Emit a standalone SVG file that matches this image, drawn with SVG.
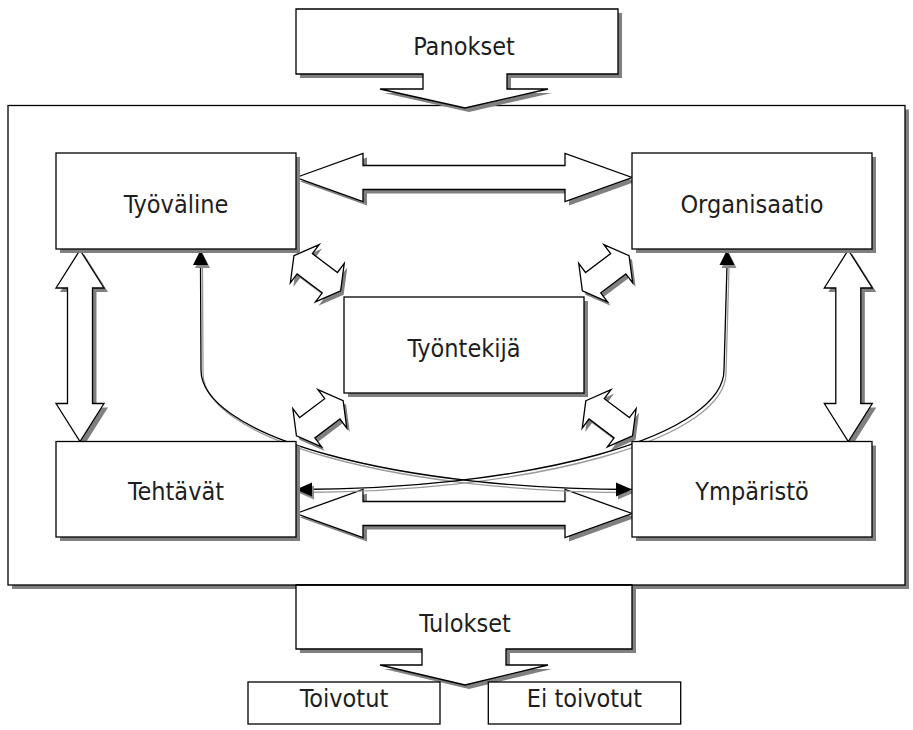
<svg xmlns="http://www.w3.org/2000/svg" xmlns:xlink="http://www.w3.org/1999/xlink" width="913" height="730" viewBox="0 0 913 730">
<style>
.box{fill:#fff;stroke:#000;stroke-width:1.3}
.sh{fill:#808080;stroke:none}
.arr{fill:#fff;stroke:#000;stroke-width:1.3;stroke-linejoin:miter}
.ln{fill:none;stroke:#000;stroke-width:1.3}
.lnsh{fill:none;stroke:#9a9a9a;stroke-width:1.3}
.head{fill:#000;stroke:none}
.headsh{fill:#8a8a8a;stroke:none}
text{font-family:"DejaVu Sans Condensed","DejaVu Sans",Verdana,sans-serif;font-stretch:condensed;font-size:25px;fill:#1e1e1e;text-anchor:middle}
</style>
<defs>
<path id="dbl" d="M-29.2,0 L-15.7,-24 L-15.7,-12.7 L15.7,-12.7 L15.7,-24 L29.2,0 L15.7,24 L15.7,12.7 L-15.7,12.7 L-15.7,24 Z"/>
</defs>

<g id="frame">
<rect class="sh" x="12" y="109.5" width="897" height="479.5"/>
<rect class="box" x="8" y="105.5" width="897" height="479.5"/>
</g>

<g id="connectors">
<!-- top horizontal double arrow -->
<polygon class="sh" transform="translate(4,4)" points="296,177.5 363,153.5 363,165.5 565,165.5 565,153.5 632,177.5 565,201.5 565,189.5 363,189.5 363,201.5"/>
<polygon class="arr" points="296,177.5 363,153.5 363,165.5 565,165.5 565,153.5 632,177.5 565,201.5 565,189.5 363,189.5 363,201.5"/>
<!-- bottom horizontal double arrow -->
<polygon class="sh" transform="translate(4,4)" points="296,513.5 363,489.5 363,501.5 565,501.5 565,489.5 632,513.5 565,537.5 565,525.5 363,525.5 363,537.5"/>
<polygon class="arr" points="296,513.5 363,489.5 363,501.5 565,501.5 565,489.5 632,513.5 565,537.5 565,525.5 363,525.5 363,537.5"/>
<!-- left vertical double arrow -->
<polygon class="sh" transform="translate(4,4)" points="80,250 104,288 92.5,288 92.5,403.5 104,403.5 80,441.5 56,403.5 67.5,403.5 67.5,288 56,288"/>
<polygon class="arr" points="80,250 104,288 92.5,288 92.5,403.5 104,403.5 80,441.5 56,403.5 67.5,403.5 67.5,288 56,288"/>
<!-- right vertical double arrow -->
<polygon class="sh" transform="translate(4,4)" points="848.3,250 872.3,288 860.8,288 860.8,403.5 872.3,403.5 848.3,441.5 824.3,403.5 835.8,403.5 835.8,288 824.3,288"/>
<polygon class="arr" points="848.3,250 872.3,288 860.8,288 860.8,403.5 872.3,403.5 848.3,441.5 824.3,403.5 835.8,403.5 835.8,288 824.3,288"/>
<!-- small diagonal double arrows -->
<use xlink:href="#dbl" class="sh" transform="translate(320.3,277.2) rotate(36.9)"/>
<use xlink:href="#dbl" class="arr" transform="translate(317.3,273.2) rotate(36.9)"/>
<use xlink:href="#dbl" class="sh" transform="translate(608.7,277.2) rotate(-36.9)"/>
<use xlink:href="#dbl" class="arr" transform="translate(605.7,273.2) rotate(-36.9)"/>
<use xlink:href="#dbl" class="sh" transform="translate(322.8,422.3) rotate(-36.9)"/>
<use xlink:href="#dbl" class="arr" transform="translate(319.8,418.3) rotate(-36.9)"/>
<use xlink:href="#dbl" class="sh" transform="translate(612.2,422.3) rotate(36.9)"/>
<use xlink:href="#dbl" class="arr" transform="translate(609.2,418.3) rotate(36.9)"/>
<!-- curved connectors: shadows -->
<path class="lnsh" transform="translate(2,3)" d="M200.5,265 L201,370 A431,119.5 0 0 0 632,489.5"/>
<path class="lnsh" transform="translate(2,3)" d="M727,265 L724,370 A428,119.5 0 0 1 296,489.5"/>
<!-- curved connectors -->
<path class="ln" d="M200.5,265 L201,370 A431,119.5 0 0 0 632,489.5"/>
<path class="ln" d="M727,265 L724,370 A428,119.5 0 0 1 296,489.5"/>
<!-- arrowheads -->
<polygon class="headsh" transform="translate(2,3)" points="200.5,250 193,265 208,265"/>
<polygon class="head" points="200.5,250 193,265 208,265"/>
<polygon class="headsh" transform="translate(2,3)" points="727,250 719.5,265 734.5,265"/>
<polygon class="head" points="727,250 719.5,265 734.5,265"/>
<polygon class="headsh" transform="translate(2,3)" points="296,489.5 312,482.5 312,496.5"/>
<polygon class="head" points="296,489.5 312,482.5 312,496.5"/>
<polygon class="headsh" transform="translate(2,3)" points="632,489.5 616,482.5 616,496.5"/>
<polygon class="head" points="632,489.5 616,482.5 616,496.5"/>
</g>

<g id="panokset">
<polygon class="sh" transform="translate(4,4)" points="296,9 618,9 618,74 507,74 507,89 548,89 465,108 380,89 423,89 423,74 296,74"/>
<polygon class="box" points="296,9 618,9 618,74 507,74 507,89 548,89 465,108 380,89 423,89 423,74 296,74"/>
<text x="464" y="55">Panokset</text>
</g>

<g id="tyovaline">
<rect class="sh" x="60" y="157" width="240" height="96"/>
<rect class="box" x="56" y="153" width="240" height="96"/>
<text x="176" y="213.3">Työväline</text>
</g>

<g id="organisaatio">
<rect class="sh" x="636" y="157" width="240" height="96"/>
<rect class="box" x="632" y="153" width="240" height="96"/>
<text x="752" y="213.3">Organisaatio</text>
</g>

<g id="tyontekija">
<rect class="sh" x="348" y="301" width="240" height="96"/>
<rect class="box" x="344" y="297" width="240" height="96"/>
<text x="464" y="356.7">Työntekijä</text>
</g>

<g id="tehtavat">
<rect class="sh" x="60" y="445.5" width="240" height="95.5"/>
<rect class="box" x="56" y="441.5" width="240" height="95.5"/>
<text x="176" y="500">Tehtävät</text>
</g>

<g id="ymparisto">
<rect class="sh" x="636" y="445.5" width="240" height="95.5"/>
<rect class="box" x="632" y="441.5" width="240" height="95.5"/>
<text x="752" y="500">Ympäristö</text>
</g>

<g id="tulokset">
<polygon class="sh" transform="translate(4,4)" points="296,585 632,585 632,649 506,649 506,665 548,665 465,685 380,665 422,665 422,649 296,649"/>
<polygon class="box" points="296,585 632,585 632,649 506,649 506,665 548,665 465,685 380,665 422,665 422,649 296,649"/>
<line class="ln" x1="296" y1="585" x2="632" y2="585"/>
<text x="465" y="631.7">Tulokset</text>
</g>

<g id="toivotut">
<rect class="box" x="248" y="682" width="192" height="42"/>
<text x="344" y="706.7">Toivotut</text>
</g>

<g id="ei-toivotut">
<rect class="box" x="488.3" y="682" width="192.4" height="42"/>
<text x="584.5" y="706.7">Ei toivotut</text>
</g>
</svg>
